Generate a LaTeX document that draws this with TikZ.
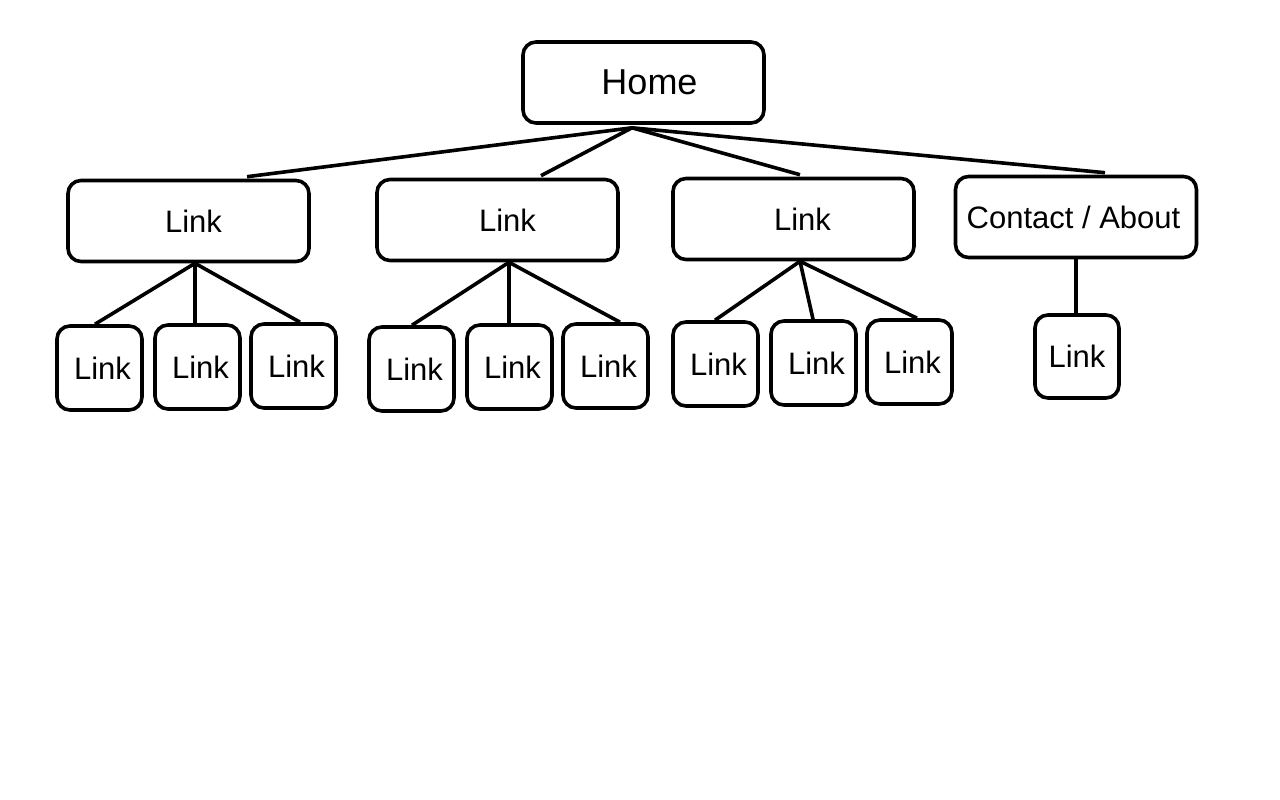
\documentclass[tikz,border=0pt]{standalone}
\usepackage{fontspec}
\setmainfont{Liberation Sans}
\usetikzlibrary{calc}
\begin{document}
\begin{tikzpicture}[x=1pt,y=-1pt,
  bigbox/.style={draw=black,line width=3.6pt,rounded corners=13pt,minimum width=241pt,minimum height=81pt,inner sep=0pt,font=\fontsize{31}{34}\selectfont},
  smallbox/.style={draw=black,line width=3.6pt,rounded corners=13pt,minimum width=85pt,minimum height=84pt,inner sep=0pt,font=\fontsize{31}{34}\selectfont},
  link/.style={line width=3.6pt}]
\fill[white] (0,0) rectangle (1280,800);
\useasboundingbox (0,0) rectangle (1280,800);
% top
\node[bigbox,font=\fontsize{36}{40}\selectfont] (home) at (643.5,82.5) {\hspace*{12pt}Home};
% level 2
\node[bigbox] (a) at (188.5,221) {\hspace*{10pt}Link};
\node[bigbox] (b) at (497.5,220) {\hspace*{20pt}Link};
\node[bigbox] (c) at (793.5,219) {\hspace*{18pt}Link};
\node[bigbox] (d) at (1076,217) {Contact / About\hspace*{5pt}};
% level 3
\node[smallbox] (a1) at (99.5,368) {\hspace*{6pt}Link};
\node[smallbox] (a2) at (197.5,367) {\hspace*{6pt}Link};
\node[smallbox] (a3) at (293.5,366) {\hspace*{6pt}Link};
\node[smallbox] (b1) at (411.5,369) {\hspace*{6pt}Link};
\node[smallbox] (b2) at (509.5,367) {\hspace*{6pt}Link};
\node[smallbox] (b3) at (605.5,366) {\hspace*{6pt}Link};
\node[smallbox] (c1) at (715.5,364) {\hspace*{6pt}Link};
\node[smallbox] (c2) at (813.5,363) {\hspace*{6pt}Link};
\node[smallbox] (c3) at (909.5,362) {\hspace*{6pt}Link};
\node[smallbox,minimum width=84pt,minimum height=83pt] (d1) at (1077,356.5) {Link};
% connectors
\coordinate (hs) at ($(home.south)+(-11.5,3)$);
\draw[link] (hs) -- ($(a.north)+(58.5,-2)$);
\draw[link] (hs) -- ($(b.north)+(43.5,-2)$);
\draw[link] (hs) -- ($(c.north)+(6.5,-2)$);
\draw[link] (hs) -- ($(d.north)+(29,-2)$);
\coordinate (as) at ($(a.south)+(6.5,0)$);
\draw[link] (as) -- ($(a1.north)+(-4.5,0)$);
\draw[link] (as) -- ($(a2.north)+(-2.5,0)$);
\draw[link] (as) -- ($(a3.north)+(6.5,0)$);
\coordinate (bs) at ($(b.south)+(11.5,0)$);
\draw[link] (bs) -- ($(b1.north)+(0.5,0)$);
\draw[link] (bs) -- ($(b2.north)+(-0.5,0)$);
\draw[link] (bs) -- ($(b3.north)+(14.5,0)$);
\coordinate (cs) at ($(c.south)+(6.5,0)$);
\draw[link] (cs) -- ($(c1.north)+(-0.5,0)$);
\draw[link] (cs) -- ($(c2.north)+(-0.5,0)$);
\draw[link] (cs) -- ($(c3.north)+(7.5,0)$);
\draw[link] (d.south) -- (d.south |- d1.north);
\end{tikzpicture}
\end{document}
